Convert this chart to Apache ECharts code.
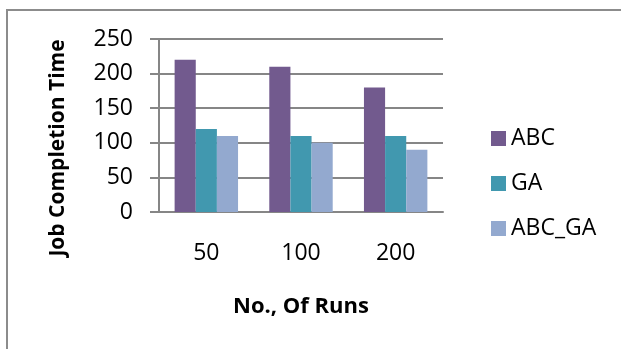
<!DOCTYPE html>
<html>
<head>
<meta charset="utf-8">
<script src="https://cdn.jsdelivr.net/npm/echarts@6/dist/echarts.min.js"></script>
<style>
	html, body { margin: 0; padding: 0; background: #fff; }
	#chart { width: 621px; height: 349px; }
</style>
</head>
<body>
<div id="chart"></div>
<script>
	var categories = ['50', '100', '200'];
	var abc = [220, 210, 180];
	var ga = [120, 110, 110];
	var abcGa = [110, 100, 90];
	var yTicks = [0, 50, 100, 150, 200, 250];

	var font = '"Open Sans", sans-serif';
	var chart = echarts.init(document.getElementById('chart'));
	var option = {
		animation: false,
		textStyle: { fontFamily: font },
		graphic: [{
			type: 'polyline',
			shape: { points: [[7, 400], [7, 10], [700, 10]] },
			style: { fill: 'none', stroke: '#8c8c8c', lineWidth: 2 }
		}, {
			// y axis title, sits a bit below the plot centre like the original
			type: 'text',
			x: 58,
			y: 148,
			rotation: Math.PI / 2,
			style: {
				text: 'Job Completion Time',
				font: 'bold 21px "Open Sans", sans-serif',
				fill: '#000',
				align: 'center',
				verticalAlign: 'middle'
			}
		}],
		legend: {
			orient: 'vertical',
			left: 486,
			top: 122,
			itemWidth: 15,
			itemHeight: 15,
			itemGap: 22,
			icon: 'rect',
			textStyle: { fontSize: 23, color: '#000', fontFamily: font },
			data: ['ABC', 'GA', 'ABC_GA']
		},
		grid: { left: 159, top: 39, width: 284, height: 173 },
		xAxis: {
			type: 'category',
			data: categories,
			name: 'No., Of Runs',
			nameLocation: 'middle',
			nameGap: 84,
			nameTextStyle: { fontSize: 22, fontWeight: 'bold', color: '#000' },
			axisLine: { lineStyle: { color: '#868686', width: 2 } },
			axisTick: { show: false },
			axisLabel: { fontSize: 23, color: '#000', margin: 30 }
		},
		yAxis: {
			type: 'value',
			min: 0,
			max: 250,
			interval: 50,
			axisLine: { show: true, lineStyle: { color: '#868686', width: 2 } },
			axisTick: { show: true, inside: false, length: 9, lineStyle: { color: '#868686', width: 2 } },
			axisLabel: {
				fontSize: 23, color: '#000', margin: 26,
				formatter: function (v) { return yTicks.indexOf(v) >= 0 ? String(v) : ''; }
			},
			splitLine: { lineStyle: { color: '#868686', width: 2 } }
		},
		series: [
			{ name: 'ABC', type: 'bar', data: abc, barGap: '0%', barCategoryGap: '33%', itemStyle: { color: '#725a8e' } },
			{ name: 'GA', type: 'bar', data: ga, itemStyle: { color: '#4198af' } },
			{ name: 'ABC_GA', type: 'bar', data: abcGa, itemStyle: { color: '#93a9cf' } }
		]
	};
	chart.setOption(option);
</script>
</body>
</html>
